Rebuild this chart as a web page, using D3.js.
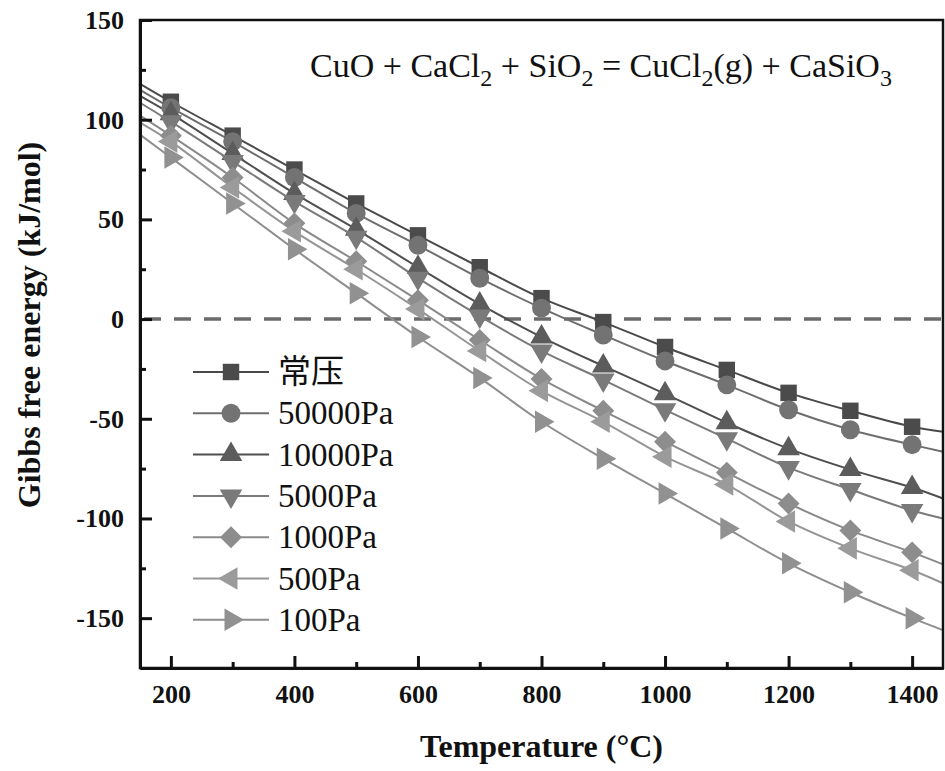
<!DOCTYPE html>
<head>
  <meta charset="utf-8">
  <script src="https://cdn.jsdelivr.net/npm/d3@7/dist/d3.min.js"></script>
  <style>
    body { margin:0; background:#fff; }
    text { font-family:"Liberation Serif","Times New Roman","Noto Sans CJK SC",serif; }
  </style>
</head>

<body>
  <script>
    // temperatures (°C) where the points were computed
    var temps = [200, 300, 400, 500, 600, 700, 800, 900, 1000, 1100, 1200, 1300, 1400];

    var seriesNames = ["常压", "50000Pa", "10000Pa", "5000Pa", "1000Pa", "500Pa", "100Pa"];

    // Gibbs free energy, kJ/mol
    var gAtm   = [109, 92, 75, 58, 42, 26, 10.5, -1.5, -14, -25.5, -37, -46, -54];
    var g50000 = [106, 89, 71, 53, 37, 20.5, 5.5, -8, -21, -33, -45.5, -55.5, -63];
    var g10000 = [103, 83, 63, 45, 26, 7.5, -9, -23.5, -37.5, -52, -65, -75.5, -84.5];
    var g5000  = [99, 79, 59, 41, 20.5, 1.5, -16, -30.5, -45.5, -60, -74.5, -85.5, -96];
    var g1000  = [92, 71, 48, 29, 9.5, -10.5, -30, -46, -61.5, -77, -92.5, -106, -117];
    var g500   = [89, 66, 44, 25, 5, -16, -36, -51.5, -69, -83, -101.5, -115, -126];
    var g100   = [81, 58, 35, 13, -9, -29.5, -51.5, -70, -87.5, -105, -122.5, -137, -150];

    // fitted curves where they meet the frame (150 °C and 1450 °C)
    var fitAt150  = [118, 115, 112, 108.5, 102, 98.5, 92.5];
    var fitAt1450 = [-56.5, -66.5, -90, -100, -123, -132.5, -156];

    var xMajor = [200, 400, 600, 800, 1000, 1200, 1400];
    var xMinor = [300, 500, 700, 900, 1100, 1300];
    var yMajor = [150, 100, 50, 0, -50, -100, -150];
    var yMinor = [125, 75, 25, -25, -75, -125];

    var allSeries = [gAtm, g50000, g10000, g5000, g1000, g500, g100];

    var markerColors = ["#4b4b4b", "#737373", "#5c5c5c", "#7a7a7a", "#8d8d8d", "#9b9b9b", "#919191"];
    var lineColors   = ["#4a4a4a", "#6e6e6e", "#4e4e4e", "#7a7a7a", "#8a8a8a", "#959595", "#8e8e8e"];
    var shapes = ["square", "circle", "up", "down", "diamond", "left", "right"];

    var width = 945, height = 771;
    var margin = {left: 140, right: 2, top: 20, bottom: 103};

    var svg = d3.select("body").append("svg")
      .attr("width", width)
      .attr("height", height);

    var x = d3.scaleLinear().domain([150, 1450]).range([margin.left, width - margin.right]);
    var y = d3.scaleLinear().domain([-175, 150]).range([height - margin.bottom, margin.top]);

    // symbol path for each marker type
    var symbolFor = function(shape) {
      if (shape == "square") return d3.symbol().type(d3.symbolSquare).size(270)();
      if (shape == "circle") return d3.symbol().type(d3.symbolCircle).size(280)();
      if (shape == "diamond") return d3.symbol().type(d3.symbolSquare).size(240)();
      return d3.symbol().type(d3.symbolTriangle).size(220)();
    };
    var rotFor = function(shape) {
      if (shape == "diamond") return 45;
      if (shape == "down") return 180;
      if (shape == "left") return -90;
      if (shape == "right") return 90;
      return 0;
    };

    // zero line
    svg.append("line")
      .attr("x1", x(150)).attr("x2", x(1450))
      .attr("y1", y(0)).attr("y2", y(0))
      .attr("stroke", "#6b6b6b")
      .attr("stroke-width", 3.5)
      .attr("stroke-dasharray", "17,13")
      .attr("stroke-dashoffset", -4);

    var line = d3.line()
      .x(function(d) { return x(d[0]); })
      .y(function(d) { return y(d[1]); })
      .curve(d3.curveCatmullRom);

    allSeries.forEach(function(vals, i) {
      var pts = [[150, fitAt150[i]]].concat(temps.map(function(t, j) { return [t, vals[j]]; }));
      pts.push([1450, fitAt1450[i]]);
      svg.append("path")
        .attr("d", line(pts))
        .attr("fill", "none")
        .attr("stroke", lineColors[i])
        .attr("stroke-width", 2);
    });

    allSeries.forEach(function(vals, i) {
      svg.append("g").selectAll("path").data(vals).enter().append("path")
        .attr("d", symbolFor(shapes[i]))
        .attr("transform", function(d, j) {
          return "translate(" + x(temps[j]) + "," + y(d) + ") rotate(" + rotFor(shapes[i]) + ")";
        })
        .attr("fill", markerColors[i]);
    });

    // frame
    svg.append("rect")
      .attr("x", x(150)).attr("y", y(150))
      .attr("width", x(1450) - x(150)).attr("height", y(-175) - y(150))
      .attr("fill", "none")
      .attr("stroke", "#111")
      .attr("stroke-width", 2.5);

    var plain = function(d) { return String(d); };

    // axes, ticks pointing inward
    svg.append("g")
      .attr("transform", "translate(0," + y(-175) + ")")
      .call(d3.axisBottom(x).tickValues(xMajor).tickFormat(plain)
        .tickSizeInner(-12).tickSizeOuter(0).tickPadding(17));
    svg.append("g")
      .attr("transform", "translate(0," + y(-175) + ")")
      .call(d3.axisBottom(x).tickValues(xMinor).tickSizeInner(-6).tickSizeOuter(0).tickFormat(""));

    svg.append("g")
      .attr("transform", "translate(" + x(150) + ",0)")
      .call(d3.axisLeft(y).tickValues(yMajor).tickFormat(plain)
        .tickSizeInner(-12).tickSizeOuter(0).tickPadding(16));
    svg.append("g")
      .attr("transform", "translate(" + x(150) + ",0)")
      .call(d3.axisLeft(y).tickValues(yMinor).tickSizeInner(-6).tickSizeOuter(0).tickFormat(""));

    svg.selectAll(".domain").attr("stroke", "#111").attr("stroke-width", 3);
    svg.selectAll(".tick line").attr("stroke", "#111").attr("stroke-width", 3);
    svg.selectAll(".tick text")
      .attr("font-family", "Liberation Serif, Times New Roman, serif")
      .attr("font-size", 26)
      .attr("font-weight", "bold")
      .attr("fill", "#111");

    // axis titles
    svg.append("text")
      .attr("x", (x(150) + x(1450)) / 2)
      .attr("y", 757)
      .attr("text-anchor", "middle")
      .attr("font-size", 32)
      .attr("font-weight", "bold")
      .attr("fill", "#111")
      .text("Temperature (\u00B0C)");

    svg.append("text")
      .attr("transform", "translate(40,325) rotate(-90)")
      .attr("text-anchor", "middle")
      .attr("font-size", 32)
      .attr("font-weight", "bold")
      .attr("fill", "#111")
      .text("Gibbs free energy (kJ/mol)");

    // reaction
    var formula = svg.append("text")
      .attr("x", 310)
      .attr("y", 77)
      .attr("font-size", 34)
      .attr("fill", "#111");
    var parts = [["CuO + CaCl", 0], ["2", 1], [" + SiO", 0], ["2", 1], [" = CuCl", 0], ["2", 1],
                 ["(g) + CaSiO", 0], ["3", 1]];
    parts.forEach(function(p, k) {
      var prevSub = k > 0 && parts[k - 1][1] == 1;
      formula.append("tspan")
        .attr("font-size", p[1] ? 24 : 34)
        .attr("dy", p[1] ? 9 : (prevSub ? -9 : 0))
        .text(p[0]);
    });

    // legend
    var legend = svg.append("g").selectAll("g").data(seriesNames).enter().append("g")
      .attr("transform", function(d, i) { return "translate(0," + (372 + i * 41.3) + ")"; });
    legend.append("line")
      .attr("x1", 193).attr("x2", 269)
      .attr("stroke", function(d, i) { return lineColors[i]; })
      .attr("stroke-width", 2);
    legend.append("path")
      .attr("d", function(d, i) { return symbolFor(shapes[i]); })
      .attr("transform", function(d, i) { return "translate(231,0) rotate(" + rotFor(shapes[i]) + ")"; })
      .attr("fill", function(d, i) { return markerColors[i]; });
    legend.append("text")
      .attr("x", 278)
      .attr("y", 11)
      .attr("font-size", 33)
      .attr("fill", "#111")
      .text(function(d) { return d; });
  </script>
</body>
